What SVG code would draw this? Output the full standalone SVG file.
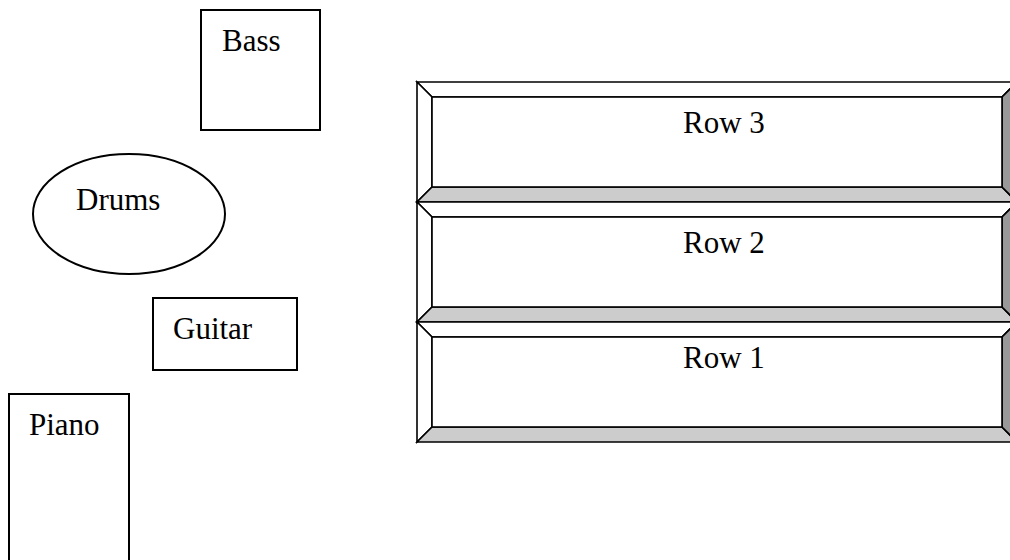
<svg xmlns="http://www.w3.org/2000/svg" width="1010" height="560" viewBox="0 0 1010 560">
<style>
.box{fill:#fff;stroke:#000;stroke-width:2}
.lbl{font-family:"Liberation Serif","Times New Roman",serif;font-size:31px;fill:#000}
.bv{stroke:#000;stroke-width:1.6;stroke-linejoin:miter}
.lt{fill:#fff}
.bt{fill:#cccccc}
.rt{fill:#999999}
</style>
<rect width="1010" height="560" fill="#fff"/>
<g id="bass"><rect class="box" x="201" y="10" width="119" height="120"/><text class="lbl" x="222" y="51">Bass</text></g>
<g id="drums"><ellipse class="box" cx="129" cy="214" rx="96" ry="60"/><text class="lbl" x="76" y="210">Drums</text></g>
<g id="guitar"><rect class="box" x="153" y="298" width="144" height="72"/><text class="lbl" x="173" y="339">Guitar</text></g>
<g id="piano"><rect class="box" x="9" y="394" width="120" height="200"/><text class="lbl" x="29" y="435">Piano</text></g>
<g id="row3">
<polygon class="bv lt" points="417,82 1017,82 1002,97 432,97"/>
<polygon class="bv lt" points="417,82 432,97 432,187 417,202"/>
<polygon class="bv bt" points="417,202 432,187 1002,187 1017,202"/>
<polygon class="bv rt" points="1017,82 1017,202 1002,187 1002,97"/>
<rect class="bv lt" x="432" y="97" width="570" height="90"/>
<text class="lbl" x="683" y="133">Row 3</text>
</g>
<g id="row2">
<polygon class="bv lt" points="417,202 1017,202 1002,217 432,217"/>
<polygon class="bv lt" points="417,202 432,217 432,307 417,322"/>
<polygon class="bv bt" points="417,322 432,307 1002,307 1017,322"/>
<polygon class="bv rt" points="1017,202 1017,322 1002,307 1002,217"/>
<rect class="bv lt" x="432" y="217" width="570" height="90"/>
<text class="lbl" x="683" y="253">Row 2</text>
</g>
<g id="row1">
<polygon class="bv lt" points="417,322 1017,322 1002,337 432,337"/>
<polygon class="bv lt" points="417,322 432,337 432,427 417,442"/>
<polygon class="bv bt" points="417,442 432,427 1002,427 1017,442"/>
<polygon class="bv rt" points="1017,322 1017,442 1002,427 1002,337"/>
<rect class="bv lt" x="432" y="337" width="570" height="90"/>
<text class="lbl" x="683" y="368">Row 1</text>
</g>
<g id="connectors"></g>
</svg>
